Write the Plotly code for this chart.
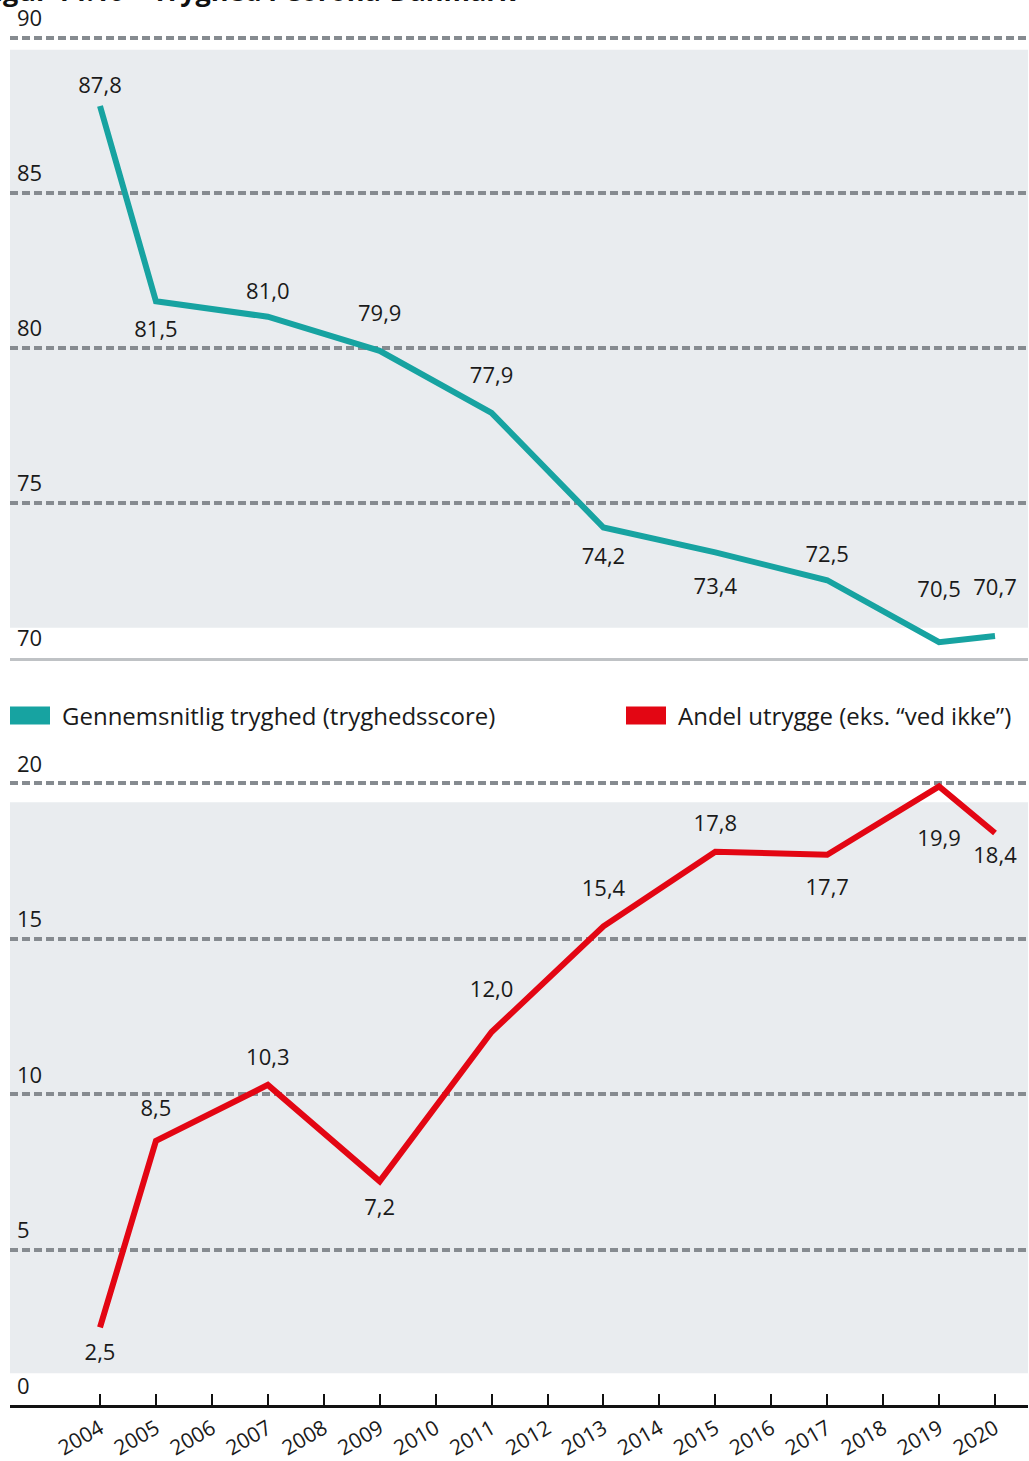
import plotly.graph_objs as go


W = 1029
H = 1461

years = [2004, 2005, 2007, 2009, 2011, 2013, 2015, 2017, 2019, 2020]
tryghed = [87.8, 81.5, 81.0, 79.9, 77.9, 74.2, 73.4, 72.5, 70.5, 70.7]
utrygge = [2.5, 8.5, 10.3, 7.2, 12.0, 15.4, 17.8, 17.7, 19.9, 18.4]

year_ticks = list(range(2004, 2021))
top_ticks = [70, 75, 80, 85, 90]
bottom_ticks = [0, 5, 10, 15, 20]

title = "Figur 14.10 – Tryghed i Corona-Danmark"
legend_names = ["Gennemsnitlig tryghed (tryghedsscore)", "Andel utrygge (eks. “ved ikke”)"]

# where each value label sits and how far from the line (invisible marker size)
tryghed_pos = ["top center", "bottom center", "top center", "top center", "top center",
               "bottom center", "bottom center", "top center", "top center", "top center"]
tryghed_gap = [10, 30, 18, 38, 38, 30, 38, 18, 62, 56]
utrygge_pos = ["bottom center", "top center", "top center", "bottom center", "top center",
               "top center", "top center", "bottom center", "bottom center", "bottom center"]
utrygge_gap = [24, 30, 22, 26, 46, 38, 22, 36, 68, 20]

TEAL = "#17a3a1"
RED = "#e30613"
BG = "#e9ecef"
GRID = "#868b90"
INK = "#1a1a1a"
FONT = "Open Sans"


def px_x(p):
    return p / W


def px_y(p):
    return 1 - p / H


def fmt(v):
    return f"{v:.1f}".replace(".", ",")


fig = go.Figure()

fig.add_trace(go.Scatter(
    x=years, y=tryghed, mode="lines+markers+text",
    line=dict(color=TEAL, width=6),
    marker=dict(size=tryghed_gap, opacity=0, line_width=0),
    text=[fmt(v) for v in tryghed], textposition=tryghed_pos,
    textfont=dict(family=FONT, size=22, color=INK),
    xaxis="x", yaxis="y", showlegend=False, cliponaxis=False, hoverinfo="x+y",
))

fig.add_trace(go.Scatter(
    x=years, y=utrygge, mode="lines+markers+text",
    line=dict(color=RED, width=6),
    marker=dict(size=utrygge_gap, opacity=0, line_width=0),
    text=[fmt(v) for v in utrygge], textposition=utrygge_pos,
    textfont=dict(family=FONT, size=22, color=INK),
    xaxis="x2", yaxis="y2", showlegend=False, cliponaxis=False, hoverinfo="x+y",
))

# x range so that 2004 sits at px 100 and 2020 at px 995
step = (995 - 100) / 16
xrange = [2004 - 90 / step, 2020 + 33 / step]

# vertical scale: 31.2 px per unit in both panels
unit = 31.2

yaxis_common = dict(
    showgrid=True, gridcolor=GRID, gridwidth=3.5, griddash="8px,4px",
    zeroline=False, showline=False, ticks="",
    ticklabelposition="inside", ticklabelshift=-19, ticklabelstandoff=4,
    tickfont=dict(family=FONT, size=22, color=INK),
)

fig.update_layout(
    width=W, height=H,
    margin=dict(l=0, r=0, t=0, b=0),
    paper_bgcolor="white", plot_bgcolor="rgba(0,0,0,0)",
    xaxis=dict(domain=[px_x(10), px_x(1028)], range=xrange, anchor="y",
               showticklabels=False, showgrid=False, zeroline=False,
               showline=True, linecolor="#bfc2c5", linewidth=3, ticks=""),
    yaxis=dict(domain=[px_y(660), px_y(2)], range=[70, 90 + 36 / unit],
               tickvals=top_ticks, **yaxis_common),
    xaxis2=dict(domain=[px_x(10), px_x(1028)], range=xrange, anchor="y2",
                tickvals=year_ticks, tickangle=-30,
                tickfont=dict(family=FONT, size=21, color=INK),
                showgrid=False, zeroline=False,
                showline=True, linecolor="#111111", linewidth=3,
                ticks="inside", ticklen=11, tickwidth=2, tickcolor="#111111"),
    yaxis2=dict(domain=[px_y(1410), px_y(750)], range=[0, 20 + 36 / unit],
                tickvals=bottom_ticks, **yaxis_common),
)

# grey panels behind the lines
fig.add_shape(type="rect", xref="paper", yref="paper", layer="below",
              x0=px_x(10), x1=px_x(1028), y0=px_y(630), y1=px_y(50),
              fillcolor=BG, line_width=0)
fig.add_shape(type="rect", xref="paper", yref="paper", layer="below",
              x0=px_x(10), x1=px_x(1028), y0=px_y(1378), y1=px_y(805),
              fillcolor=BG, line_width=0)

# legend between the two panels
for col, name, x0 in [(TEAL, legend_names[0], 10), (RED, legend_names[1], 626)]:
    fig.add_shape(type="rect", xref="paper", yref="paper",
                  x0=px_x(x0), x1=px_x(x0 + 40), y0=px_y(727), y1=px_y(709),
                  fillcolor=col, line_width=0)
    fig.add_annotation(xref="paper", yref="paper", x=px_x(x0 + 50), y=px_y(718),
                       xanchor="left", yanchor="middle", showarrow=False,
                       text=name, font=dict(family=FONT, size=24, color=INK))

# title, clipped at the top of the page as in the original
fig.add_annotation(xref="paper", yref="paper", x=px_x(-22), y=px_y(11),
                   xanchor="left", yanchor="bottom", showarrow=False,
                   text="<b>" + title + "</b>",
                   font=dict(family=FONT, size=27, color="#111111"))

fig.write_html("out.html", config={"displayModeBar": False},
               post_script="document.body.style.margin = '0px';")
